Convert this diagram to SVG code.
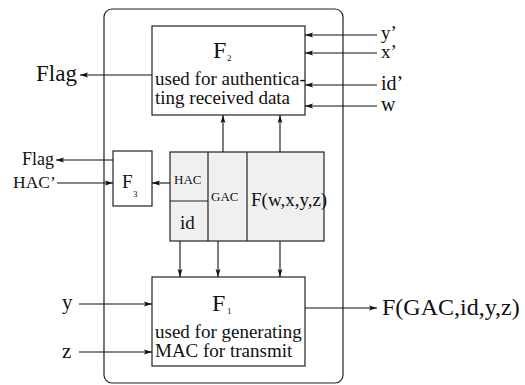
<svg xmlns="http://www.w3.org/2000/svg" width="525" height="385" viewBox="0 0 525 385">
<style>
.box{fill:#fff;stroke:#222;stroke-width:1.2}
.data{fill:#f0f0f0;stroke:#222;stroke-width:1.2}
.ln{stroke:#111;stroke-width:1.1;fill:none;marker-end:url(#ah)}
.t{font-family:'Liberation Serif','DejaVu Serif','Times New Roman',serif;fill:#111}
</style>
<defs>
<marker id="ah" markerUnits="userSpaceOnUse" markerWidth="9" markerHeight="6" refX="8" refY="3" orient="auto">
<path d="M0,0.6 L8,3 L0,5.4 L1.5,3 z" fill="#111"/>
</marker>
</defs>
<rect width="525" height="385" fill="#fff"/>
<g id="outer"><rect x="104" y="9" width="239" height="374" rx="8" fill="none" stroke="#222" stroke-width="1.2"/></g>
<g id="F2">
<rect class="box" x="152" y="26" width="153" height="89"/>
<text class="t" x="213" y="58" font-size="24">F</text><text class="t" x="227" y="61" font-size="9">2</text>
<text class="t" x="155" y="85" font-size="19">used for authentica-</text>
<text class="t" x="155" y="104" font-size="19">ting received data</text>
</g>
<g id="F3">
<rect class="box" x="113" y="151" width="39" height="55"/>
<text class="t" x="122" y="188" font-size="19">F</text><text class="t" x="133" y="197" font-size="9">3</text>
</g>
<g id="data">
<rect class="data" x="170" y="152" width="154" height="89"/>
<line x1="208" y1="152" x2="208" y2="241" stroke="#222" stroke-width="1.2"/>
<line x1="247" y1="152" x2="247" y2="241" stroke="#222" stroke-width="1.2"/>
<line x1="170" y1="201" x2="208" y2="201" stroke="#222" stroke-width="1.2"/>
<text class="t" x="174" y="184" font-size="13">HAC</text>
<text class="t" x="180" y="229" font-size="19">id</text>
<text class="t" x="211" y="201" font-size="13">GAC</text>
<text class="t" x="251" y="206" font-size="19">F(w,x,y,z)</text>
</g>
<g id="F1">
<rect class="box" x="152" y="277" width="153" height="89"/>
<text class="t" x="212" y="311" font-size="24">F</text><text class="t" x="227" y="314" font-size="9">1</text>
<text class="t" x="155" y="338" font-size="19">used for generating</text>
<text class="t" x="155" y="357" font-size="19">MAC for transmit</text>
</g>
<g id="labels">
<text class="t" x="381" y="39" font-size="19">y’</text>
<text class="t" x="381" y="58" font-size="19">x’</text>
<text class="t" x="381" y="90" font-size="20">id’</text>
<text class="t" x="381" y="111" font-size="20">w</text>
<text class="t" x="36" y="81" font-size="23">Flag</text>
<text class="t" x="22" y="165" font-size="18">Flag</text>
<text class="t" x="13" y="188" font-size="17.5">HAC’</text>
<text class="t" x="62" y="309" font-size="21">y</text>
<text class="t" x="62" y="358" font-size="21">z</text>
<text class="t" x="382" y="315" font-size="24">F(GAC,id,y,z)</text>
</g>
<g id="connectors">
<line class="ln" x1="377" y1="35" x2="305" y2="35"/>
<line class="ln" x1="377" y1="53" x2="305" y2="53"/>
<line class="ln" x1="377" y1="85" x2="305" y2="85"/>
<line class="ln" x1="377" y1="106" x2="305" y2="106"/>
<line class="ln" x1="152" y1="75" x2="80" y2="75"/>
<line class="ln" x1="223" y1="152" x2="223" y2="115"/>
<line class="ln" x1="280" y1="152" x2="280" y2="115"/>
<line class="ln" x1="113" y1="160" x2="56" y2="160"/>
<line class="ln" x1="57" y1="183" x2="113" y2="183"/>
<line class="ln" x1="170" y1="183" x2="152" y2="183"/>
<line class="ln" x1="180" y1="241" x2="180" y2="277"/>
<line class="ln" x1="218" y1="241" x2="218" y2="277"/>
<line class="ln" x1="280" y1="241" x2="280" y2="277"/>
<line class="ln" x1="79" y1="304" x2="152" y2="304"/>
<line class="ln" x1="79" y1="352" x2="152" y2="352"/>
<line class="ln" x1="305" y1="308" x2="377" y2="308"/>
</g>
</svg>
